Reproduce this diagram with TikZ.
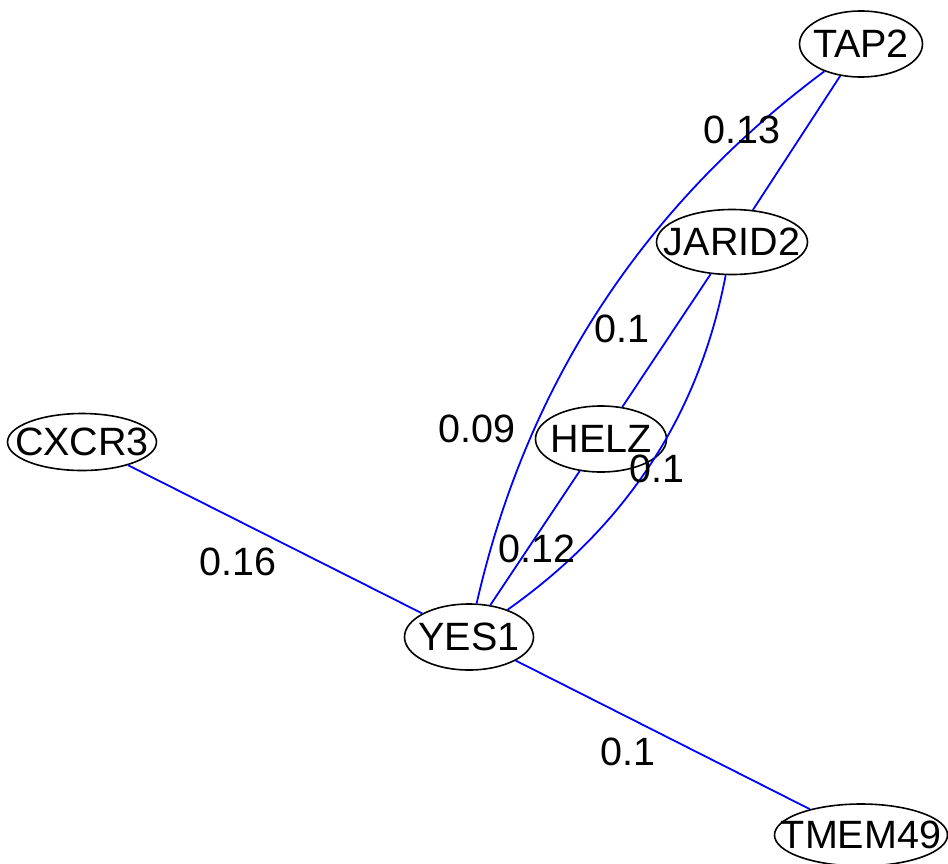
\documentclass[tikz,border=0pt]{standalone}
\usepackage{fontspec}
\setmainfont{Liberation Sans}
\usetikzlibrary{shapes.geometric}
\begin{document}
\begin{tikzpicture}[x=1pt,y=-1pt,
  vtx/.style={ellipse,draw=black,line width=1.6pt,inner sep=0pt},
  edge/.style={draw={rgb,255:red,0;green,0;blue,255},line width=1.8pt},
  wlab/.style={font=\fontsize{39.5}{41}\selectfont,inner sep=0pt},
  every label/.style={font=\fontsize{39.5}{41}\selectfont,inner sep=0pt}]
\useasboundingbox (0,0) rectangle (948,863);
\node[vtx,minimum width=123pt,minimum height=66pt,label={center:TAP2}] (tap2) at (861,44) {};
\node[vtx,minimum width=151pt,minimum height=65pt,label={center:JARID2}] (jarid2) at (732,242) {};
\node[vtx,minimum width=131pt,minimum height=66pt,label={center:HELZ}] (helz) at (601,439) {};
\node[vtx,minimum width=149pt,minimum height=57pt,label={center:CXCR3}] (cxcr3) at (82,442) {};
\node[vtx,minimum width=129pt,minimum height=66pt,label={center:YES1}] (yes1) at (469,637) {};
\node[vtx,minimum width=173pt,minimum height=62pt,label={center:TMEM49}] (tmem49) at (861,835) {};
\draw[edge] (tap2) -- (jarid2);
\draw[edge] (tap2) .. controls (645,205) and (527,382) .. (yes1);
\draw[edge] (jarid2) -- (helz);
\draw[edge] (jarid2) .. controls (699,415) and (626,526) .. (yes1);
\draw[edge] (helz) -- (yes1);
\draw[edge] (cxcr3) -- (yes1);
\draw[edge] (yes1) -- (tmem49);
\node[wlab] (l1) at (742,130) {0.13};
\node[wlab] (l2) at (622,329) {0.1};
\node[wlab] (l3) at (477,429) {0.09};
\node[wlab] (l4) at (657,469) {0.1};
\node[wlab] (l5) at (537,549) {0.12};
\node[wlab] (l6) at (238,562) {0.16};
\node[wlab] (l7) at (628,752) {0.1};
\end{tikzpicture}
\end{document}
